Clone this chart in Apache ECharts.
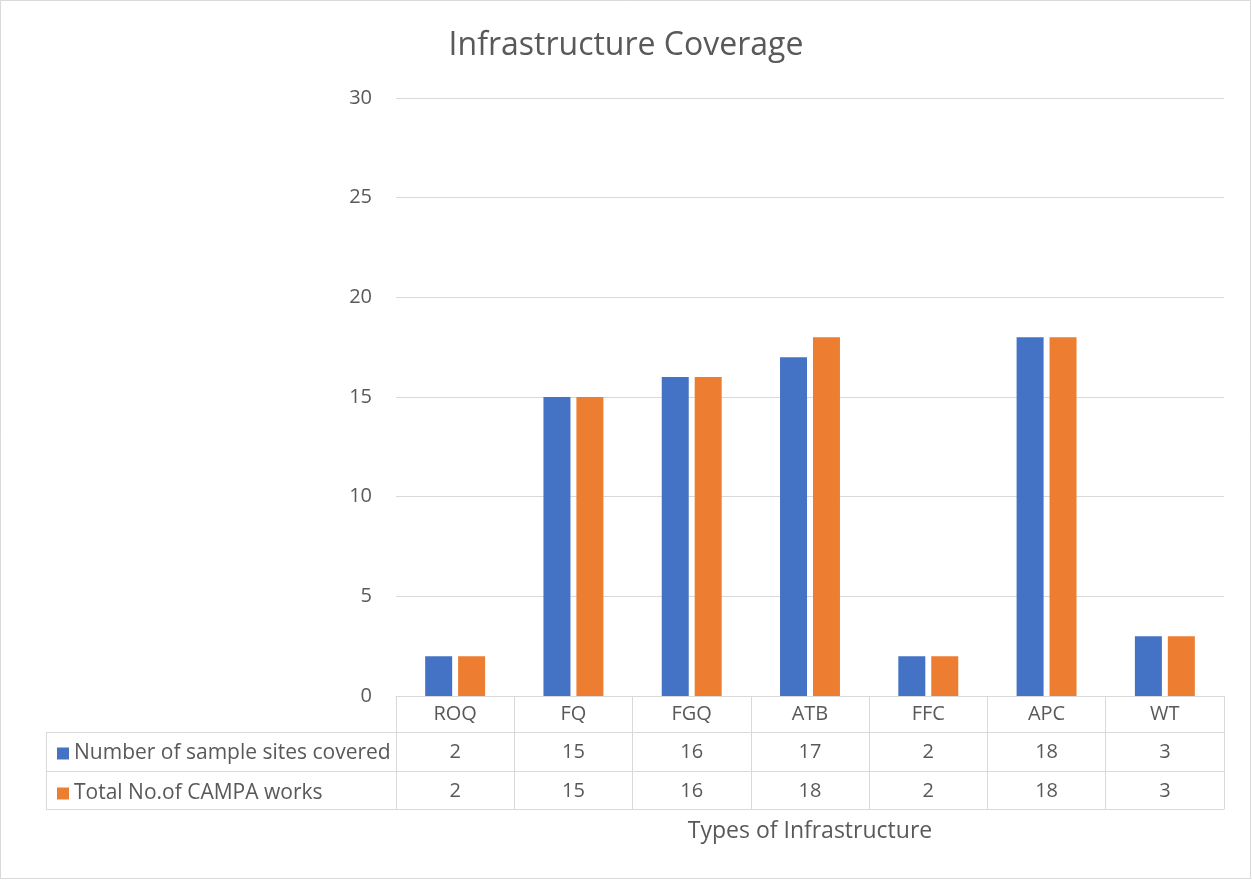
<!DOCTYPE html>
<html><head><meta charset="utf-8">
<script src="https://cdn.jsdelivr.net/npm/echarts@6/dist/echarts.min.js"></script>
<style>html,body{margin:0;padding:0;background:#fff}#c{width:1252px;height:881px}</style>
</head><body><div id="c"></div>
<script>
const categories = ['ROQ','FQ','FGQ','ATB','FFC','APC','WT'];
const sitesCovered = [2,15,16,17,2,18,3];
const campaWorks = [2,15,16,18,2,18,3];
const seriesNames = ['Number of sample sites covered','Total No.of CAMPA works'];
const yTicks = [0,5,10,15,20,25,30];

const FONT = '"Open Sans", "Noto Sans", sans-serif';
const TXT = '#595959';
const GRID = '#d9d9d9';
const FS = 20;
const chart = echarts.init(document.getElementById('c'), null, {renderer:'canvas'});

const baseX = {type:'category', data:categories, position:'bottom', gridIndex:0, boundaryGap:true};
chart.setOption({
  animation:false,
  backgroundColor:'#fff',
  title:{text:'Infrastructure Coverage', left:'center', top:25,
    textStyle:{fontFamily:FONT, fontSize:32, fontWeight:'normal', color:TXT}},
  legend:{orient:'vertical', left:52, top:738, itemGap:19, itemWidth:12, itemHeight:12,
    icon:'rect', textStyle:{fontFamily:FONT, fontSize:21, color:TXT}, data:seriesNames, selectedMode:false},
  grid:{left:396, right:28, top:98, bottom:185},
  xAxis:[
    Object.assign({}, baseX, {
      axisLine:{show:true, lineStyle:{color:GRID, width:1}},
      axisTick:{show:true, length:113, lineStyle:{color:GRID, width:1}},
      axisLabel:{margin:8, fontFamily:FONT, fontSize:FS, color:TXT}
    }),
    Object.assign({}, baseX, {offset:36,
      axisLine:{show:true, lineStyle:{color:GRID}}, axisTick:{show:false},
      axisLabel:{margin:10, fontFamily:FONT, fontSize:FS, color:TXT, formatter:(v,i)=>String(sitesCovered[i])}
    }),
    Object.assign({}, baseX, {offset:75,
      axisLine:{show:true, lineStyle:{color:GRID}}, axisTick:{show:false},
      axisLabel:{margin:10, fontFamily:FONT, fontSize:FS, color:TXT, formatter:(v,i)=>String(campaWorks[i])}
    }),
    Object.assign({}, baseX, {offset:113,
      axisLine:{show:true, lineStyle:{color:GRID}}, axisTick:{show:false}, axisLabel:{show:false},
      name:'Types of Infrastructure', nameLocation:'middle', nameGap:11,
      nameTextStyle:{fontFamily:FONT, fontSize:23, color:TXT, verticalAlign:'top'}
    })
  ],
  yAxis:{type:'value', min:yTicks[0], max:yTicks[yTicks.length-1], interval:5,
    axisLine:{show:false}, axisTick:{show:false},
    axisLabel:{margin:24, fontFamily:FONT, fontSize:FS, color:TXT},
    splitLine:{lineStyle:{color:GRID, width:1}}},
  series:[
    {name:seriesNames[0], type:'bar', data:sitesCovered, barWidth:27, barGap:'22%', itemStyle:{color:'#4472c4'}},
    {name:seriesNames[1], type:'bar', data:campaWorks, barWidth:27, barGap:'22%', itemStyle:{color:'#ed7d31'}}
  ],
  graphic:[
    {type:'rect', shape:{x:0.5,y:0.5,width:1250,height:878}, style:{fill:null, stroke:GRID, lineWidth:1}, silent:true, z:-1},
    {type:'line', shape:{x1:46,y1:732.5,x2:396,y2:732.5}, style:{stroke:GRID, lineWidth:1}},
    {type:'line', shape:{x1:46,y1:771.5,x2:396,y2:771.5}, style:{stroke:GRID, lineWidth:1}},
    {type:'line', shape:{x1:46,y1:809.5,x2:396,y2:809.5}, style:{stroke:GRID, lineWidth:1}},
    {type:'line', shape:{x1:46.5,y1:732,x2:46.5,y2:810}, style:{stroke:GRID, lineWidth:1}}
  ]
});
</script></body></html>
